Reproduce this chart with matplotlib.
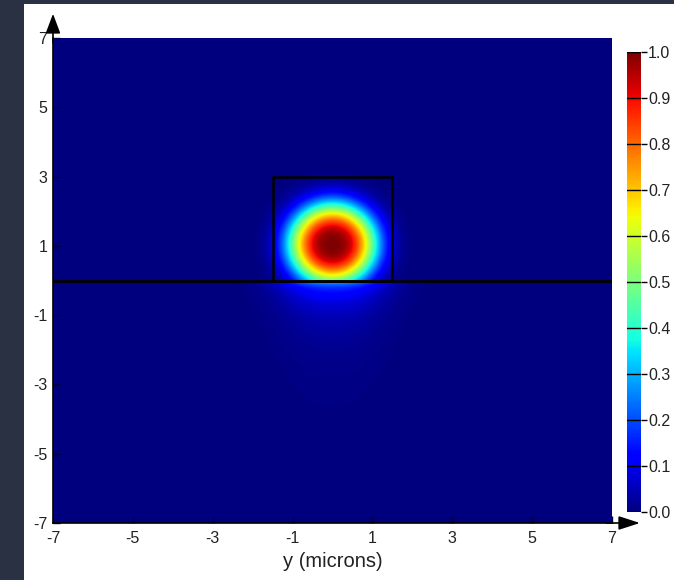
import numpy as np
import matplotlib
matplotlib.use("Agg")
import matplotlib.pyplot as plt
from matplotlib.patches import Rectangle

plt.rcParams['font.family'] = ['Liberation Sans', 'DejaVu Sans']

# ---- data ----
axis_ticks = [-7, -5, -3, -1, 1, 3, 5, 7]
axis_limits = [-7, 7]
cbar_ticks = [0.0, 0.1, 0.2, 0.3, 0.4, 0.5, 0.6, 0.7, 0.8, 0.9, 1.0]
core_x = [-1.5, 1.5]          # rib edges (microns)
core_y = [0.0, 3.0]           # rib bottom / top
substrate_y = 0.0             # slab interface line
mode_center = [0.0, 1.05]     # peak position
mode_width = [1.1, 1.18]      # 1/e radius in x, y
mode_power = 2.9              # super-gaussian exponent
sub_decay = [0.07, 0.5, 1.3]  # decay lengths below interface
sub_weights = [0.45, 0.4, 0.15]
sub_width = 1.3
xlabel = "y (microns)"

# ---- field ----
n = 600
xs = np.linspace(axis_limits[0], axis_limits[1], n)
ys = np.linspace(axis_limits[0], axis_limits[1], n)
X, Y = np.meshgrid(xs, ys)

def upper(x, y):
    r = np.sqrt((x - mode_center[0])**2 / mode_width[0]**2 +
                (y - mode_center[1])**2 / mode_width[1]**2)
    return np.exp(-r**mode_power)

I = upper(X, Y)
g = sum(w * np.exp(Y / d) for w, d in zip(sub_weights, sub_decay))
xw = np.exp(-np.abs(X / sub_width)**2.4)
I_below = upper(0, substrate_y) * g * xw * 0.85
I = np.where(Y < substrate_y, I_below, I)
I = I / I.max()

# ---- figure ----
W, H = 674, 580
fig = plt.figure(figsize=(W / 100, H / 100), dpi=100)
fig.patch.set_facecolor('#2a3142')
fig.add_artist(Rectangle((24 / W, 0), 1 - 24 / W, 1 - 4 / H,
                         transform=fig.transFigure, facecolor='white',
                         edgecolor='none', zorder=0))

ax = fig.add_axes([53 / W, 1 - 523 / H, 559 / W, 485 / H])
im = ax.imshow(I, extent=[axis_limits[0], axis_limits[1], axis_limits[0], axis_limits[1]],
               origin='lower', cmap='jet', vmin=0, vmax=1, aspect='auto',
               interpolation='bilinear')
ax.set_xlim(axis_limits)
ax.set_ylim(axis_limits)
ax.set_xticks(axis_ticks)
ax.set_yticks(axis_ticks)
ax.set_xticklabels([str(t) for t in axis_ticks], fontsize=11.5, color='#222222')
ax.set_yticklabels([str(t) for t in axis_ticks], fontsize=11.5, color='#222222')
ax.tick_params(direction='in', length=5, width=1, color='#000040')
ax.tick_params(axis='x', pad=6)
ax.tick_params(axis='y', pad=4)
ax.set_xlabel(xlabel, fontsize=14.5, color='#222222', labelpad=4)
for s in ['top', 'right']:
    ax.spines[s].set_visible(False)
for s in ['left', 'bottom']:
    ax.spines[s].set_color('black')
    ax.spines[s].set_linewidth(1.2)

# structure outline
ax.plot(axis_limits, [substrate_y, substrate_y], color='black', lw=2)
ax.add_patch(Rectangle((core_x[0], core_y[0]), core_x[1] - core_x[0],
                       core_y[1] - core_y[0], fill=False, edgecolor='black', lw=1.8))

# axis arrows
ax.annotate('', xy=(0, 1.05), xycoords='axes fraction', xytext=(0, 0.99),
            arrowprops=dict(arrowstyle='-|>,head_length=1.2,head_width=0.45',
                            color='black', lw=1.2, shrinkA=0, shrinkB=0),
            annotation_clip=False)
ax.annotate('', xy=(1.05, 0), xycoords='axes fraction', xytext=(0.99, 0),
            arrowprops=dict(arrowstyle='-|>,head_length=1.3,head_width=0.42',
                            color='black', lw=1.2, shrinkA=0, shrinkB=0),
            annotation_clip=False)

# colorbar
cax = fig.add_axes([627 / W, 1 - 512 / H, 14 / W, 460 / H])
cb = fig.colorbar(im, cax=cax, ticks=cbar_ticks)
cb.outline.set_visible(False)
cb.ax.set_yticklabels([f"{t:.1f}" for t in cbar_ticks], fontsize=11.5, color='#222222')
cb.ax.tick_params(direction='out', length=4, width=1, color='black', pad=1)
for t in cbar_ticks:
    cb.ax.axhline(t, xmin=0, xmax=1, color='black', lw=1)

fig.savefig('out.png', dpi=100, facecolor=fig.get_facecolor())
